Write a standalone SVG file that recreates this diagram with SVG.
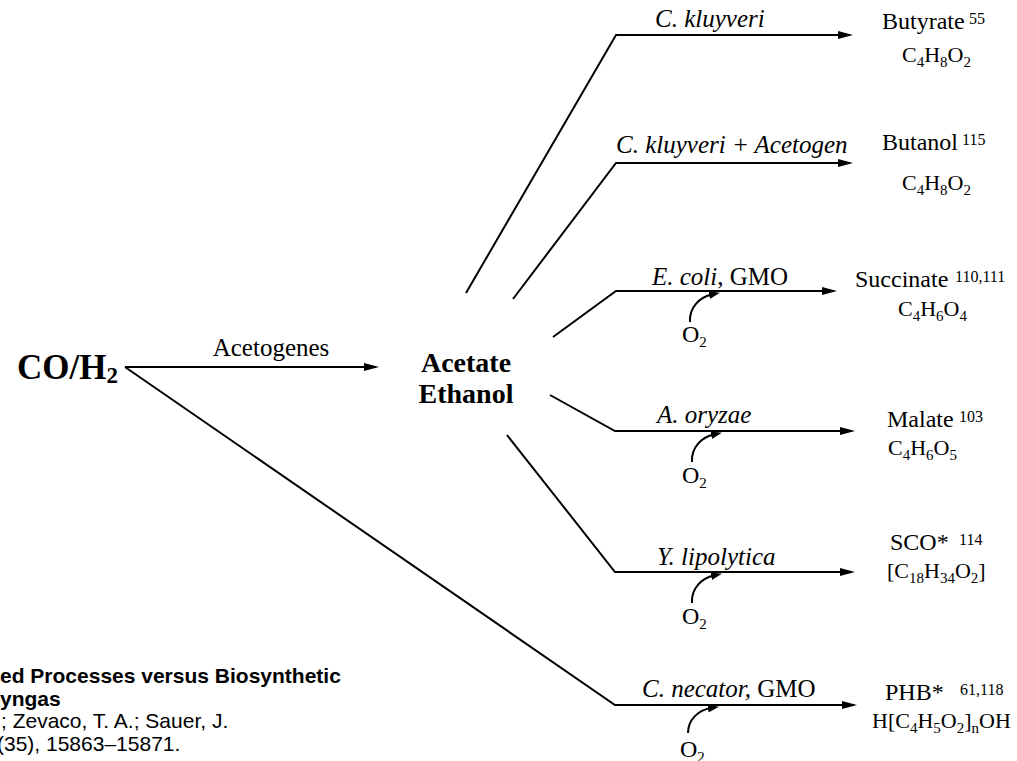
<svg xmlns="http://www.w3.org/2000/svg" width="1017" height="761" viewBox="0 0 1017 761">
<style>
.ln{fill:none;stroke:#000;stroke-width:2}
.t{font-family:"Liberation Serif","Times New Roman",serif;fill:#000}
.lbl{font-size:25px;font-style:italic}
.up{font-style:normal}
.prod{font-size:24px}
.frm{font-size:22px}
.sb{font-size:15px}
.sp{font-size:16px}
.bold{font-weight:bold}
.cap{font-family:"Liberation Sans",Arial,sans-serif;font-size:21px;fill:#000}
</style>
<defs>
<marker id="ah" markerUnits="userSpaceOnUse" markerWidth="16" markerHeight="10" refX="12" refY="5" orient="auto">
<path d="M0,1 L15,5 L0,9 z" fill="#000"/>
</marker>
<marker id="ahs" markerUnits="userSpaceOnUse" markerWidth="12" markerHeight="8" refX="3" refY="4" orient="auto">
<path d="M0,0 L11,4 L0,8 z" fill="#000"/>
</marker>
</defs>
<rect width="1017" height="761" fill="#fff"/>

<g id="connectors">
<path class="ln" d="M125,367 H376" marker-end="url(#ah)"/>
<path class="ln" d="M466,293 L616,35 H850" marker-end="url(#ah)"/>
<path class="ln" d="M513,299 L616,163 H850" marker-end="url(#ah)"/>
<path class="ln" d="M553,337 L616,291 H834" marker-end="url(#ah)"/>
<path class="ln" d="M550,395 L615,431 H852" marker-end="url(#ah)"/>
<path class="ln" d="M507,435 L615,572 H852" marker-end="url(#ah)"/>
<path class="ln" d="M125,367 L615,705 H854" marker-end="url(#ah)"/>
<path class="ln" d="M690,322 C689,307 700,297 712,294.5" marker-end="url(#ahs)"/>
<path class="ln" d="M692,462 C691,447 702,437 714,434.5" marker-end="url(#ahs)"/>
<path class="ln" d="M692,603 C691,588 702,578 714,575.5" marker-end="url(#ahs)"/>
<path class="ln" d="M688,733 C688,720 698,710 711,708" marker-end="url(#ahs)"/>
</g>

<g id="edge-labels">
<text class="t" x="271" y="356" font-size="25" text-anchor="middle">Acetogenes</text>
<text class="t lbl" x="655" y="27">C. kluyveri</text>
<text class="t lbl" x="616" y="153">C. kluyveri + Acetogen</text>
<text class="t lbl" x="652" y="285">E. coli<tspan class="up">, GMO</tspan></text>
<text class="t lbl" x="657" y="423">A. oryzae</text>
<text class="t lbl" x="657" y="565">Y. lipolytica</text>
<text class="t lbl" x="642" y="697">C. necator, <tspan class="up">GMO</tspan></text>
<text class="t" x="682" y="342" font-size="24">O<tspan class="sb" dy="5">2</tspan></text>
<text class="t" x="682" y="483" font-size="24">O<tspan class="sb" dy="5">2</tspan></text>
<text class="t" x="682" y="624" font-size="24">O<tspan class="sb" dy="5">2</tspan></text>
<text class="t" x="680" y="757" font-size="24">O<tspan class="sb" dy="5">2</tspan></text>
</g>

<g id="co-h2">
<text class="t bold" x="17" y="379" font-size="35">CO/H<tspan font-size="23" dy="4">2</tspan></text>
</g>

<g id="acetate-ethanol">
<text class="t bold" x="466" y="372" font-size="28" text-anchor="middle">Acetate</text>
<text class="t bold" x="466" y="403" font-size="28" text-anchor="middle">Ethanol</text>
</g>

<g id="butyrate">
<text class="t prod" x="882" y="29">Butyrate</text>
<text class="t sp" x="969" y="24">55</text>
<text class="t frm" x="902" y="62">C<tspan class="sb" dy="5">4</tspan><tspan dy="-5">H</tspan><tspan class="sb" dy="5">8</tspan><tspan dy="-5">O</tspan><tspan class="sb" dy="5">2</tspan></text>
</g>

<g id="butanol">
<text class="t prod" x="882" y="150">Butanol</text>
<text class="t sp" x="962" y="145">115</text>
<text class="t frm" x="902" y="190">C<tspan class="sb" dy="5">4</tspan><tspan dy="-5">H</tspan><tspan class="sb" dy="5">8</tspan><tspan dy="-5">O</tspan><tspan class="sb" dy="5">2</tspan></text>
</g>

<g id="succinate">
<text class="t prod" x="855" y="287">Succinate</text>
<text class="t sp" x="955" y="282">110,111</text>
<text class="t frm" x="898" y="316">C<tspan class="sb" dy="5">4</tspan><tspan dy="-5">H</tspan><tspan class="sb" dy="5">6</tspan><tspan dy="-5">O</tspan><tspan class="sb" dy="5">4</tspan></text>
</g>

<g id="malate">
<text class="t prod" x="887" y="427">Malate</text>
<text class="t sp" x="959" y="422">103</text>
<text class="t frm" x="888" y="455">C<tspan class="sb" dy="5">4</tspan><tspan dy="-5">H</tspan><tspan class="sb" dy="5">6</tspan><tspan dy="-5">O</tspan><tspan class="sb" dy="5">5</tspan></text>
</g>

<g id="sco">
<text class="t prod" x="890" y="550">SCO*</text>
<text class="t sp" x="959" y="545">114</text>
<text class="t frm" x="887" y="578">[C<tspan class="sb" dy="5">18</tspan><tspan dy="-5">H</tspan><tspan class="sb" dy="5">34</tspan><tspan dy="-5">O</tspan><tspan class="sb" dy="5">2</tspan><tspan dy="-5">]</tspan></text>
</g>

<g id="phb">
<text class="t prod" x="885" y="700">PHB*</text>
<text class="t sp" x="960" y="695">61,118</text>
<text class="t frm" x="872" y="728">H[C<tspan class="sb" dy="5">4</tspan><tspan dy="-5">H</tspan><tspan class="sb" dy="5">5</tspan><tspan dy="-5">O</tspan><tspan class="sb" dy="5">2</tspan><tspan dy="-5">]</tspan><tspan class="sb" dy="5">n</tspan><tspan dy="-5">OH</tspan></text>
</g>

<g id="caption">
<text class="cap" x="0" y="683" font-weight="bold">ed Processes versus Biosynthetic</text>
<text class="cap" x="0" y="706" font-weight="bold">yngas</text>
<text class="cap" x="1" y="728">; Zevaco, T. A.; Sauer, J.</text>
<text class="cap" x="-3" y="751">(35), 15863–15871.</text>
</g>
</svg>
